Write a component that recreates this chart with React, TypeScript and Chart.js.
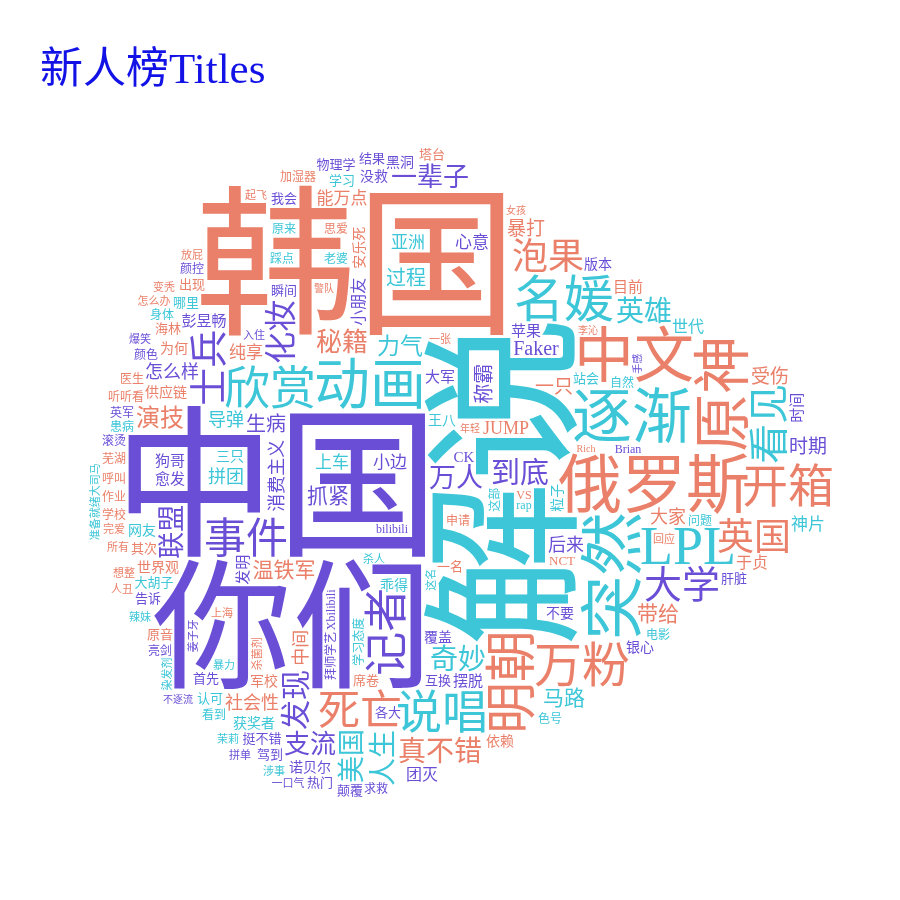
import { useEffect, useRef } from "react"
import Chart from "chart.js/auto"

// ── Data: words and their weights ────────────────────────────
const WORDS = [
  "解说", "中国", "韩国", "你们", "俄罗斯", "突然", "逐渐", "中文", "原神", "动画",
  "LPL", "名媛", "明朝", "万粉", "开箱", "欣赏", "说唱", "记者", "事件", "死亡",
  "看见", "士兵", "大学", "英国", "泡果", "化妆", "发现", "到底", "奇妙", "英雄",
  "真不错", "人生", "联盟", "美国", "万人", "秘籍", "一辈子", "支流", "演技", "力气",
  "抓紧", "温铁军", "带给", "马路", "称霸", "过程", "生病", "Faker", "暴打", "时期",
  "一只", "受伤", "怎么样", "后来", "拼团", "导弹", "大家", "消费主义", "中间", "JUMP",
  "社会性", "小边", "上车", "心意", "亚洲", "神片", "纯享", "能万点", "团灭", "世代",
  "于贞", "小朋友", "彭昱畅", "大军", "苹果", "摆脱", "狗哥", "目前", "愈发", "时间",
  "发明", "CK", "覆盖", "安乐死", "乖得", "银心", "供应链", "世界观", "军校", "依赖",
  "没救", "王八", "版本", "为何", "获奖者", "不要", "黑洞", "网友", "诺贝尔", "粒子",
  "三只", "站会", "瞬间", "互换", "塔台", "大胡子", "学习", "其次", "挺不错", "NCT",
  "一名", "首先", "席卷", "颠覆", "哪里", "海林", "肝脏", "结果", "各大", "认可",
  "告诉", "热门", "出现", "我会", "物理学", "原音", "驾到", "申请", "自然", "问题",
  "老婆", "思爱", "Brian", "踩点", "原来", "求救", "色号", "颜色", "听听看", "患病",
  "学习态度", "Xbilibili", "医生", "身体", "芜湖", "VS", "bilibili", "加湿器", "看到", "电影",
  "呼叫", "rap", "作业", "英军", "颜控", "滚烫", "学校", "这部", "拜师学艺", "亮剑",
  "回应", "所有", "想整", "辣妹", "杀人", "入住", "完爱", "一口气", "涉事", "爆笑",
  "上海", "这名", "暴力", "杀菌剂", "茉莉", "准备就绪大司马", "怎么办", "染发剂", "放屁", "一张",
  "人丑", "起飞", "姜子牙", "拼单", "变秃", "年轻", "手感", "不逐流", "李沁", "警队",
  "女孩", "Rich",
]

const WEIGHTS = [
  165, 163, 161, 140, 64, 64, 60, 60, 58, 56,
  54, 50, 52, 48, 46, 46, 46, 44, 42, 42,
  40, 38, 38, 37, 36, 32, 30, 29, 28, 28,
  28, 28, 27, 27, 27, 26, 26, 26, 24, 23,
  21, 21, 21, 21, 20, 20, 20, 20, 19, 19,
  19, 19, 18, 18, 18, 18, 18, 18, 18, 18,
  18, 17, 17, 17, 17, 17, 17, 17, 16, 16,
  16, 16, 15, 15, 15, 15, 15, 15, 15, 15,
  15, 15, 14, 14, 14, 14, 14, 14, 14, 14,
  14, 14, 14, 14, 14, 14, 14, 14, 14, 14,
  14, 13, 13, 13, 13, 13, 13, 13, 13, 13,
  13, 13, 13, 13, 13, 13, 13, 13, 13, 13,
  13, 13, 13, 13, 13, 13, 13, 12, 12, 12,
  12, 12, 12, 12, 12, 12, 12, 12, 12, 12,
  12, 12, 12, 12, 12, 12, 12, 12, 12, 12,
  12, 12, 12, 12, 12, 12, 12, 12, 12, 12,
  11, 11, 11, 11, 11, 11, 11, 11, 11, 11,
  11, 11, 11, 11, 11, 11, 11, 11, 11, 11,
  11, 11, 11, 11, 11, 10, 10, 10, 10, 10,
  10, 10,
]

const TITLE = "新人榜Titles"

// ── Styling ──────────────────────────────────────────────────
const PURPLE = "#6a4fd6"
const CORAL  = "#ea8069"
const CYAN   = "#3cc6d7"
const FONT   = "'Liberation Serif', 'Noto Sans CJK SC', serif"
const SIZE_MIN = 10
const SIZE_MAX = 165

const VERTICAL = new Set([
  "解说", "原神", "突然", "明朝", "记者", "士兵", "看见", "化妆", "联盟", "发现", "美国",
  "人生", "称霸", "消费主义", "中间", "安乐死", "小朋友", "时间", "这部", "学习态度",
  "Xbilibili", "发明", "手感", "这名", "拜师学艺", "粒子", "杀菌剂", "准备就绪大司马",
  "染发剂", "姜子牙",
])

const PURPLE_WORDS = new Set([
  "中国", "你们", "记者", "士兵", "大学", "事件", "化妆", "联盟", "发现", "到底", "万人",
  "一辈子", "支流", "抓紧", "称霸", "生病", "怎么样", "后来", "小边", "消费主义", "心意",
  "Faker", "团灭", "彭昱畅", "时期", "大军", "苹果", "摆脱", "狗哥", "覆盖", "银心", "愈发",
  "瞬间", "亮剑", "互换", "没救", "版本", "挺不错", "拼单", "Brian", "CK", "小朋友", "首先",
  "不要", "颠覆", "入住", "肝脏", "求救", "结果", "各大", "一口气", "时间", "Xbilibili",
  "黑洞", "告诉", "热门", "诺贝尔", "我会", "物理学", "爆笑", "bilibili", "发明", "手感",
  "驾到", "英军", "颜控", "滚烫", "不逐流", "姜子牙", "拜师学艺", "颜色",
])

const CORAL_WORDS = new Set([
  "韩国", "俄罗斯", "原神", "中文", "明朝", "开箱", "万粉", "泡果", "英国", "死亡", "秘籍",
  "真不错", "演技", "温铁军", "带给", "受伤", "大家", "纯享", "暴打", "能万点", "于贞",
  "一只", "中间", "JUMP", "社会性", "目前", "安乐死", "申请", "世界观", "军校", "供应链",
  "依赖", "塔台", "为何", "回应", "所有", "其次", "思爱", "NCT", "一名", "想整", "席卷",
  "完爱", "海林", "变秃", "听听看", "医生", "出现", "芜湖", "VS", "年轻", "加湿器", "原音",
  "上海", "呼叫", "作业", "杀菌剂", "怎么办", "放屁", "学校", "一张", "李沁", "人丑",
  "警队", "女孩", "Rich", "起飞",
])

// cloud outline in page pixels, and where the plot area starts on the page
const OUTLINE: [number, number][] = [
  [240, 148], [440, 148], [485, 182], [560, 226], [650, 286], [722, 332], [800, 376],
  [840, 470], [822, 532], [762, 572], [702, 612], [652, 652], [612, 696], [532, 738],
  [482, 762], [422, 788], [330, 802], [238, 798], [158, 744], [118, 704], [92, 650],
  [88, 560], [88, 330], [98, 278], [138, 212], [198, 178],
]
const ORIGIN_X = 40
const ORIGIN_Y = 138
const AREA_W = 852
const AREA_H = 754
const CENTER: [number, number] = [520, 482]
const SEED = 11

type Placed = { x: number; y: number; text: string; size: number; color: string; vertical: boolean }

function colorOf(w: string) {
  if (PURPLE_WORDS.has(w)) return PURPLE
  if (CORAL_WORDS.has(w)) return CORAL
  return CYAN
}

// ── Spiral layout on a pixel grid (wordcloud2 style) ─────────
function layoutCloud(): Placed[] {
  const G = 2
  const cols = Math.ceil(AREA_W / G)
  const rows = Math.ceil(AREA_H / G)

  const mc = document.createElement("canvas")
  mc.width = cols
  mc.height = rows
  const mctx = mc.getContext("2d")!
  mctx.beginPath()
  OUTLINE.forEach(([px, py], i) => {
    const cx = (px - ORIGIN_X) / G
    const cy = (py - ORIGIN_Y) / G
    if (i === 0) mctx.moveTo(cx, cy)
    else mctx.lineTo(cx, cy)
  })
  mctx.closePath()
  mctx.fill()
  const shape = mctx.getImageData(0, 0, cols, rows).data
  const free = new Uint8Array(cols * rows)
  for (let i = 0; i < cols * rows; i++) free[i] = shape[i * 4 + 3] > 127 ? 1 : 0

  let seed = SEED
  const rand = () => {
    seed = (seed * 16807) % 2147483647
    return seed / 2147483647
  }

  const vMin = Math.min(...WEIGHTS)
  const vMax = Math.max(...WEIGHTS)
  const order = WORDS.map((_, i) => i).sort((a, b) => WEIGHTS[b] - WEIGHTS[a])

  const c0 = Math.round((CENTER[0] - ORIGIN_X) / G)
  const r0 = Math.round((CENTER[1] - ORIGIN_Y) / G)
  const maxR = Math.max(cols, rows)

  const placed: Placed[] = []
  const wc = document.createElement("canvas")
  const wctx = wc.getContext("2d", { willReadFrequently: true })!

  for (const idx of order) {
    const text = WORDS[idx]
    const size = SIZE_MIN + ((WEIGHTS[idx] - vMin) / (vMax - vMin)) * (SIZE_MAX - SIZE_MIN)
    const vertical = VERTICAL.has(text)

    wctx.font = `${size}px ${FONT}`
    const tw = Math.ceil(wctx.measureText(text).width) + 4
    const th = Math.ceil(size * 1.3) + 4
    const cw = vertical ? th : tw
    const ch = vertical ? tw : th
    wc.width = cw
    wc.height = ch
    wctx.font = `${size}px ${FONT}`
    wctx.textAlign = "center"
    wctx.textBaseline = "middle"
    wctx.fillStyle = "#000"
    wctx.save()
    wctx.translate(cw / 2, ch / 2)
    if (vertical) wctx.rotate(-Math.PI / 2)
    wctx.fillText(text, 0, 0)
    wctx.restore()
    const img = wctx.getImageData(0, 0, cw, ch).data

    const ink = new Set<number>()
    const cells: [number, number][] = []
    for (let y = 0; y < ch; y++) {
      for (let x = 0; x < cw; x++) {
        if (img[(y * cw + x) * 4 + 3] > 30) {
          const dx = Math.floor((x - cw / 2) / G)
          const dy = Math.floor((y - ch / 2) / G)
          const key = (dy + 1000) * 4000 + dx + 1000
          if (!ink.has(key)) {
            ink.add(key)
            cells.push([dx, dy])
          }
        }
      }
    }
    if (!cells.length) continue
    cells.sort((a, b) => Math.abs(a[0]) + Math.abs(a[1]) - Math.abs(b[0]) - Math.abs(b[1]))

    const fits = (px: number, py: number) => {
      for (const [dx, dy] of cells) {
        const x = px + dx
        const y = py + dy
        if (x < 0 || y < 0 || x >= cols || y >= rows) return false
        if (!free[y * cols + x]) return false
      }
      return true
    }

    let spot: [number, number] | null = null
    for (let r = 0; r < maxR && !spot; r++) {
      const n = r === 0 ? 1 : Math.ceil(2 * Math.PI * r)
      const start = rand() * 2 * Math.PI
      const pts: [number, number][] = []
      for (let k = 0; k < n; k++) {
        const a = start + (k / n) * 2 * Math.PI
        pts.push([c0 + Math.round(r * Math.cos(a)), r0 + Math.round(r * Math.sin(a) * 0.88)])
      }
      for (let k = pts.length - 1; k > 0; k--) {
        const j = Math.floor(rand() * (k + 1))
        const t = pts[k]; pts[k] = pts[j]; pts[j] = t
      }
      for (const [px, py] of pts) {
        if (fits(px, py)) { spot = [px, py]; break }
      }
    }
    if (!spot) continue

    const [px, py] = spot
    for (const [dx, dy] of cells) {
      for (let oy = -1; oy <= 1; oy++) {
        for (let ox = -1; ox <= 1; ox++) {
          const x = px + dx + ox
          const y = py + dy + oy
          if (x >= 0 && y >= 0 && x < cols && y < rows) free[y * cols + x] = 0
        }
      }
    }
    placed.push({ x: px * G, y: py * G, text, size, color: colorOf(text), vertical })
  }
  return placed
}

// draws each word at its point, through the scales
const wordPlugin = {
  id: "wordText",
  afterDatasetsDraw(chart: any) {
    const meta = chart.getDatasetMeta(0)
    const pts = chart.data.datasets[0].data as Placed[]
    const xs = chart.scales.x
    const k = Math.abs(xs.getPixelForValue(1) - xs.getPixelForValue(0))
    const ctx = chart.ctx
    meta.data.forEach((el: any, i: number) => {
      const p = pts[i]
      ctx.save()
      ctx.translate(el.x, el.y)
      if (p.vertical) ctx.rotate(-Math.PI / 2)
      ctx.font = `${p.size * k}px ${FONT}`
      ctx.fillStyle = p.color
      ctx.textAlign = "center"
      ctx.textBaseline = "middle"
      ctx.fillText(p.text, 0, 0)
      ctx.restore()
    })
  },
}

export default function App() {
  const ref = useRef<HTMLCanvasElement>(null)
  useEffect(() => {
    if (!ref.current) return
    const placed = layoutCloud()
    const chart = new Chart(ref.current, {
      type: "scatter",
      data: {
        datasets: [{
          label: "words",
          data: placed as any,
          pointRadius: 0,
          pointHoverRadius: 0,
        }],
      },
      options: {
        animation: false,
        responsive: true,
        maintainAspectRatio: false,
        events: [],
        layout: { padding: { left: ORIGIN_X - 8, top: 0, right: 0, bottom: 0 } },
        plugins: {
          legend: { display: false },
          tooltip: { enabled: false },
          title: {
            display: true,
            text: TITLE,
            align: "start",
            color: "#1212e6",
            font: { family: FONT, size: 43, weight: "normal" },
            padding: { top: 38, bottom: 40 },
          },
        },
        scales: {
          x: { type: "linear", display: false, min: 0, max: AREA_W },
          y: { type: "linear", display: false, min: 0, max: AREA_H, reverse: true },
        },
      },
      plugins: [wordPlugin],
    })
    return () => chart.destroy()
  }, [])
  return (
    <div style={{ position: "relative", width: "100%", height: "884px" }}>
      <canvas ref={ref} />
    </div>
  )
}
